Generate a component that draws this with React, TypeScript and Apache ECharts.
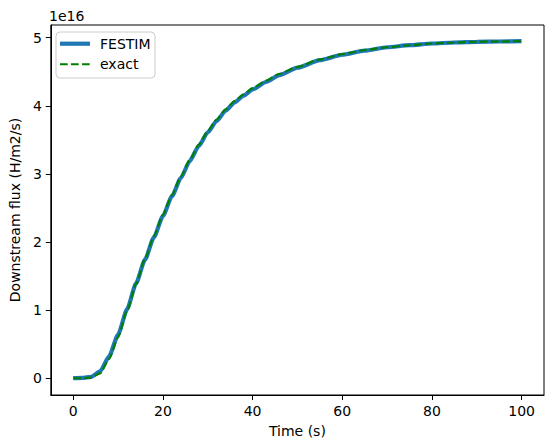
import React, { useEffect, useRef } from "react";
import * as echarts from "echarts";

// Time (s)
const times = [0, 2, 4, 6, 8, 10, 12, 14, 16, 18, 20, 22, 24, 26, 28, 30, 32, 34, 36, 38, 40, 43, 46, 50, 55, 60, 65, 70, 75, 80, 85, 90, 95, 100];
// Downstream flux, in units of 1e16 H/m2/s
const festimFlux = [0, 0.004, 0.02, 0.1, 0.32, 0.64, 1.01, 1.39, 1.74, 2.07, 2.38, 2.67, 2.94, 3.19, 3.41, 3.61, 3.78, 3.93, 4.05, 4.15, 4.24, 4.35, 4.45, 4.56, 4.67, 4.75, 4.81, 4.86, 4.89, 4.915, 4.93, 4.94, 4.945, 4.95];
const exactFlux = [0, 0.0, 0.01, 0.07, 0.28, 0.6, 0.99, 1.38, 1.75, 2.09, 2.4, 2.69, 2.96, 3.21, 3.43, 3.63, 3.8, 3.95, 4.07, 4.17, 4.26, 4.37, 4.47, 4.57, 4.68, 4.76, 4.82, 4.86, 4.89, 4.915, 4.93, 4.94, 4.945, 4.95];
const xTicks = [0, 20, 40, 60, 80, 100];
const yTicks = [0, 1, 2, 3, 4, 5];
const offsetLabel = "1e16";
const seriesNames = ["FESTIM", "exact"];

const FONT = "DejaVu Sans";
const BLUE = "#1f77b4";
const GREEN = "#008000";

export default function App() {
  const ref = useRef<HTMLDivElement>(null);
  useEffect(() => {
    if (!ref.current) return;
    const chart = echarts.init(ref.current, undefined, { renderer: "svg" });
    const axisCommon = {
      type: "value" as const,
      axisLine: { show: true, onZero: false, lineStyle: { color: "#000", width: 1 } },
      axisTick: { show: true, inside: false, length: 5, lineStyle: { color: "#000", width: 1 } },
      splitLine: { show: false },
      nameTextStyle: { color: "#000", fontSize: 14, fontFamily: FONT },
    };
    const legendX = 56;
    const legendY = 32;
    const txt = { fontSize: 14, fontFamily: FONT, fontWeight: "normal", fill: "#000", verticalAlign: "middle" };
    chart.setOption({
      animation: false,
      backgroundColor: "#fff",
      grid: { left: 48, right: 10, top: 25, bottom: 53, show: true, borderColor: "#000", borderWidth: 1, backgroundColor: "transparent" },
      xAxis: {
        ...axisCommon,
        min: -5,
        max: 105,
        name: "Time (s)",
        nameLocation: "middle",
        nameGap: 29,
        axisTick: { ...axisCommon.axisTick, customValues: xTicks },
        axisLabel: { customValues: xTicks, color: "#000", fontSize: 14, fontFamily: FONT, margin: 9 },
      },
      yAxis: {
        ...axisCommon,
        min: -0.247,
        max: 5.187,
        name: "Downstream flux (H/m2/s)",
        nameLocation: "middle",
        nameGap: 25,
        axisTick: { ...axisCommon.axisTick, customValues: yTicks },
        axisLabel: { customValues: yTicks, color: "#000", fontSize: 14, fontFamily: FONT, margin: 9 },
      },
      graphic: [
        { type: "text", left: 49, top: 9, style: { text: offsetLabel, fontSize: 14, fontFamily: FONT, fontWeight: "normal", fill: "#000" } },
        {
          type: "group",
          x: legendX,
          y: legendY,
          z: 100,
          children: [
            { type: "rect", shape: { x: 0, y: 0, width: 99, height: 46, r: 4 }, style: { fill: "rgba(255,255,255,0.8)", stroke: "#cccccc", lineWidth: 1 } },
            { type: "line", shape: { x1: 4, y1: 11.7, x2: 34, y2: 11.7 }, style: { stroke: BLUE, lineWidth: 4.2 } },
            { type: "text", x: 44, y: 11.7, style: { ...txt, text: seriesNames[0] } },
            { type: "line", shape: { x1: 4, y1: 32.3, x2: 34, y2: 32.3 }, style: { stroke: GREEN, lineWidth: 2.1, lineDash: [7.7, 3.3] } },
            { type: "text", x: 44, y: 32.3, style: { ...txt, text: seriesNames[1] } },
          ],
        },
      ],
      series: [
        {
          name: seriesNames[0],
          type: "line",
          showSymbol: false,
          symbol: "none",
          smooth: 0.2,
          smoothMonotone: "x",
          data: times.map((t, i) => [t, festimFlux[i]]),
          lineStyle: { color: BLUE, width: 4.2 },
          itemStyle: { color: BLUE },
        },
        {
          name: seriesNames[1],
          type: "line",
          showSymbol: false,
          symbol: "none",
          smooth: 0.2,
          smoothMonotone: "x",
          data: times.map((t, i) => [t, exactFlux[i]]),
          lineStyle: { color: GREEN, width: 2.1, type: [7.7, 3.3] },
          itemStyle: { color: GREEN },
        },
      ],
    });
    return () => chart.dispose();
  }, []);
  return <div ref={ref} style={{ position: "fixed", left: 0, top: 0, width: 554, height: 448 }} />;
}
